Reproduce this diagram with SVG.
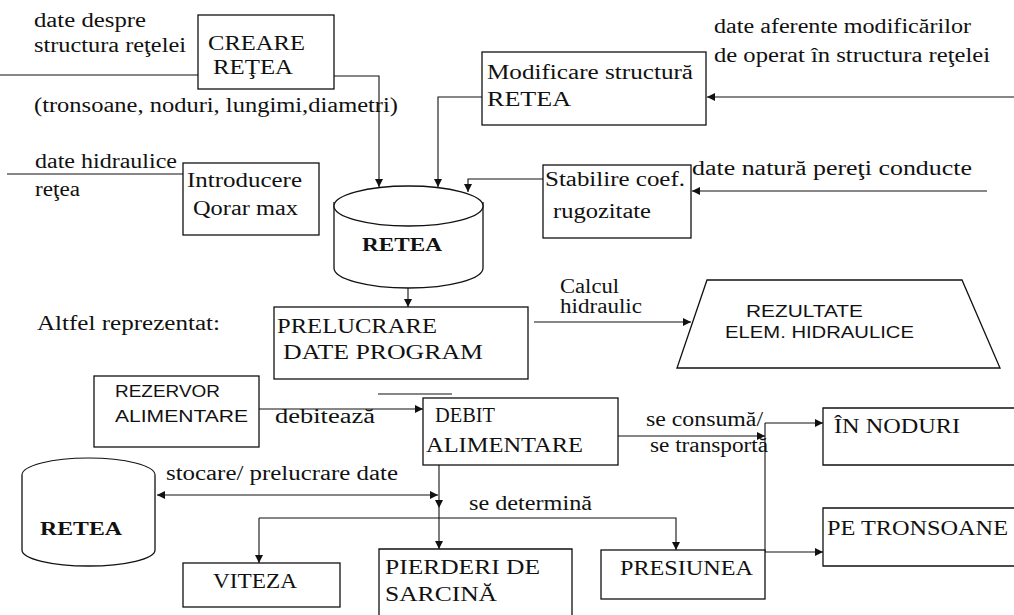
<svg xmlns="http://www.w3.org/2000/svg" width="1014" height="615" viewBox="0 0 1014 615">
  <defs>
    <marker id="arr" viewBox="0 0 10 10" refX="10" refY="5" markerWidth="8" markerHeight="8" markerUnits="userSpaceOnUse" orient="auto">
      <path d="M0,0 L10,5 L0,10 Z" fill="#111"/>
    </marker>
    <marker id="arrStart" viewBox="0 0 10 10" refX="0" refY="5" markerWidth="8" markerHeight="8" markerUnits="userSpaceOnUse" orient="auto">
      <path d="M10,0 L0,5 L10,10 Z" fill="#111"/>
    </marker>
    <style>
      .t { font-size: 20px; fill: #111; }
      .c { font-size: 22px; fill: #111; }
      .s { font-size: 16px; fill: #111; }
      .b { font-size: 18px; font-weight: bold; fill: #111; }
      .box { fill: #fff; stroke: #111; stroke-width: 1.3; }
      .ln { fill: none; stroke: #111; stroke-width: 1.1; }
      .ar { fill: none; stroke: #111; stroke-width: 1.1; marker-end: url(#arr); }
    </style>
  </defs>
  <rect width="1014" height="615" fill="#fff"/>

  <g font-family="Liberation Serif, serif">
  <!-- free labels -->
  <g id="labels">
    <text class="t" x="34" y="27" textLength="112" lengthAdjust="spacingAndGlyphs">date despre</text>
    <text class="t" x="34" y="52" textLength="152" lengthAdjust="spacingAndGlyphs">structura reţelei</text>
    <text class="t" x="34" y="112" textLength="364" lengthAdjust="spacingAndGlyphs">(tronsoane, noduri, lungimi,diametri)</text>
    <text class="t" x="714" y="33" textLength="257" lengthAdjust="spacingAndGlyphs">date aferente modificărilor</text>
    <text class="t" x="714" y="62" textLength="276" lengthAdjust="spacingAndGlyphs">de operat în structura reţelei</text>
    <text class="t" x="35" y="168" textLength="142" lengthAdjust="spacingAndGlyphs">date hidraulice</text>
    <text class="t" x="35" y="196" textLength="45" lengthAdjust="spacingAndGlyphs">reţea</text>
    <text class="t" x="692" y="175" textLength="280" lengthAdjust="spacingAndGlyphs">date natură pereţi conducte</text>
    <text class="t" x="560" y="293" textLength="59" lengthAdjust="spacingAndGlyphs">Calcul</text>
    <text class="t" x="560" y="313" textLength="82" lengthAdjust="spacingAndGlyphs">hidraulic</text>
    <text class="t" x="37" y="330" textLength="183" lengthAdjust="spacingAndGlyphs">Altfel reprezentat:</text>
    <text class="t" x="275" y="423" textLength="100" lengthAdjust="spacingAndGlyphs">debitează</text>
    <text class="t" x="646" y="426" textLength="117" lengthAdjust="spacingAndGlyphs">se consumă/</text>
    <text class="t" x="650" y="452" textLength="118" lengthAdjust="spacingAndGlyphs">se transportă</text>
    <text class="t" x="166" y="480" textLength="232" lengthAdjust="spacingAndGlyphs">stocare/ prelucrare date</text>
    <text class="t" x="469" y="510" textLength="123" lengthAdjust="spacingAndGlyphs">se determină</text>
  </g>

  <!-- connectors -->
  <g id="connectors">
    <path class="ln" d="M0,75 H198"/>
    <path class="ar" d="M334,76 H379 V187"/>
    <path class="ar" d="M482,97 H438 V187"/>
    <path class="ar" d="M1014,97 H707"/>
    <path class="ln" d="M7,174 H183"/>
    <path class="ar" d="M543,179 H468 V192"/>
    <path class="ar" d="M987,191 H692"/>
    <path class="ar" d="M408,288 V307"/>
    <path class="ar" d="M534,322 H691"/>
    <path class="ar" d="M259,409 H423"/>
    <path class="ln" d="M378,394 H452"/>
    <path class="ar" d="M618,436 H765"/>
    <path class="ln" d="M765,423 V552"/>
    <path class="ar" d="M765,423 H823"/>
    <path class="ar" d="M765,552 H823"/>
    <path class="ln" d="M157,495 H438" marker-start="url(#arrStart)" marker-end="url(#arr)"/>
    <path class="ar" d="M439,465 V508"/>
    <path class="ar" d="M439,508 V549"/>
    <path class="ar" d="M259,518 V563"/>
    <path class="ar" d="M259,518 H676 V550"/>
  </g>

  <g id="creare-retea">
    <rect class="box" x="198" y="15" width="136" height="74"/>
    <text class="c" x="208" y="50" textLength="97" lengthAdjust="spacingAndGlyphs">CREARE</text>
    <text class="c" x="213" y="74" textLength="80" lengthAdjust="spacingAndGlyphs">REŢEA</text>
  </g>

  <g id="modificare-structura">
    <rect class="box" x="482" y="52" width="224" height="73"/>
    <text class="t" x="487" y="79" textLength="206" lengthAdjust="spacingAndGlyphs">Modificare structură</text>
    <text class="t" x="487" y="106" textLength="84" lengthAdjust="spacingAndGlyphs">RETEA</text>
  </g>

  <g id="introducere-qorar">
    <rect class="box" x="183" y="163" width="136" height="72"/>
    <text class="t" x="187" y="187" textLength="115" lengthAdjust="spacingAndGlyphs">Introducere</text>
    <text class="t" x="193" y="215" textLength="105" lengthAdjust="spacingAndGlyphs">Qorar max</text>
  </g>

  <g id="stabilire-coef">
    <rect class="box" x="543" y="165" width="148" height="73"/>
    <text class="t" x="545" y="186" textLength="140" lengthAdjust="spacingAndGlyphs">Stabilire coef.</text>
    <text class="t" x="553" y="218" textLength="98" lengthAdjust="spacingAndGlyphs">rugozitate</text>
  </g>

  <g id="retea-store">
    <path class="box" d="M334,202 V268 A74.5,20 0 0 0 483,268 V202"/>
    <ellipse class="box" cx="408.5" cy="206" rx="74.5" ry="20"/>
    <text class="b" x="362" y="251" textLength="80" lengthAdjust="spacingAndGlyphs">RETEA</text>
  </g>

  <g id="prelucrare-date">
    <rect class="box" x="274" y="307" width="254" height="72"/>
    <text class="c" x="277" y="333" textLength="160" lengthAdjust="spacingAndGlyphs">PRELUCRARE</text>
    <text class="c" x="283" y="359" textLength="200" lengthAdjust="spacingAndGlyphs">DATE  PROGRAM</text>
  </g>

  <g id="rezultate" font-family="Liberation Sans, sans-serif">
    <path class="box" d="M707,280 H962 L1000,368 H677 Z"/>
    <text class="s" x="746" y="317" textLength="117" lengthAdjust="spacingAndGlyphs">REZULTATE</text>
    <text class="s" x="725" y="338" textLength="189" lengthAdjust="spacingAndGlyphs">ELEM. HIDRAULICE</text>
  </g>

  <g id="rezervor" font-family="Liberation Sans, sans-serif">
    <rect class="box" x="94" y="376" width="165" height="71"/>
    <text class="s" x="115" y="397" textLength="105" lengthAdjust="spacingAndGlyphs">REZERVOR</text>
    <text class="s" x="115" y="422" textLength="133" lengthAdjust="spacingAndGlyphs">ALIMENTARE</text>
  </g>

  <g id="debit-alimentare">
    <rect class="box" x="423" y="398" width="195" height="67"/>
    <text class="c" x="435" y="422" textLength="60" lengthAdjust="spacingAndGlyphs">DEBIT</text>
    <text class="c" x="426" y="452" textLength="157" lengthAdjust="spacingAndGlyphs">ALIMENTARE</text>
  </g>

  <g id="in-noduri">
    <path class="box" d="M1020,408 H823 V465 H1020"/>
    <text class="c" x="834" y="433" textLength="126" lengthAdjust="spacingAndGlyphs">ÎN NODURI</text>
  </g>

  <g id="pe-tronsoane">
    <path class="box" d="M1020,508 H823 V566 H1020"/>
    <text class="c" x="827" y="535" textLength="181" lengthAdjust="spacingAndGlyphs">PE TRONSOANE</text>
  </g>

  <g id="retea-lower">
    <path class="box" d="M22,475 V550 A66.5,16 0 0 0 155,550 V475"/>
    <path class="ln" d="M22,475 A66.5,17 0 0 1 155,475"/>
    <text class="b" x="40" y="535" textLength="82" lengthAdjust="spacingAndGlyphs">RETEA</text>
  </g>

  <g id="viteza">
    <rect class="box" x="183" y="563" width="157" height="44"/>
    <text class="t" x="213" y="588" textLength="84" lengthAdjust="spacingAndGlyphs">VITEZA</text>
  </g>

  <g id="pierderi-sarcina">
    <path class="box" d="M379,620 V549 H572 V620"/>
    <text class="c" x="385" y="574" textLength="155" lengthAdjust="spacingAndGlyphs">PIERDERI DE</text>
    <text class="c" x="385" y="601" textLength="112" lengthAdjust="spacingAndGlyphs">SARCINĂ</text>
  </g>

  <g id="presiunea">
    <rect class="box" x="601" y="550" width="164" height="49"/>
    <text class="c" x="620" y="575" textLength="133" lengthAdjust="spacingAndGlyphs">PRESIUNEA</text>
  </g>
  </g>
</svg>
